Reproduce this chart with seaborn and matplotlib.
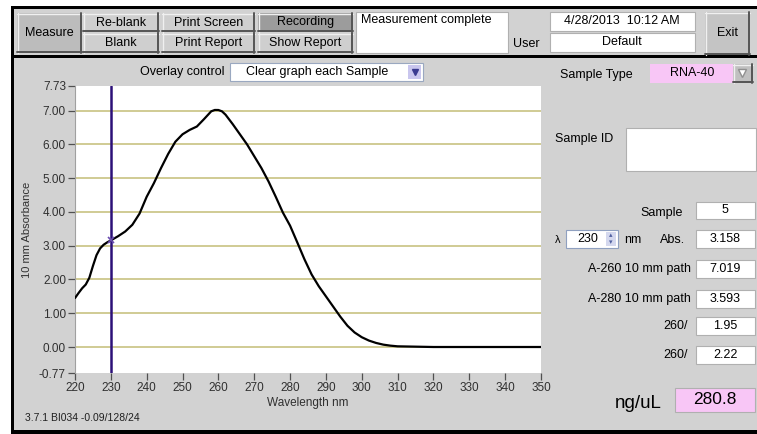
import numpy as np
import pandas as pd
import matplotlib
matplotlib.use("Agg")
import matplotlib.pyplot as plt
from matplotlib.patches import Rectangle
from matplotlib.lines import Line2D
import seaborn as sns

# spectrum
wavelength = [220, 221, 222, 223, 224, 225, 226, 227, 228, 229, 230, 232, 234, 236, 238,
              240, 242, 244, 246, 248, 250, 252, 254, 256, 258, 259, 260, 261, 262, 264,
              266, 268, 270, 272, 274, 276, 278, 280, 282, 284, 286, 288, 290, 292, 294,
              296, 298, 300, 302, 304, 306, 308, 310, 315, 320, 325, 330, 335, 340, 345, 350]
absorbance = [1.45, 1.60, 1.74, 1.85, 2.05, 2.40, 2.72, 2.92, 3.03, 3.10, 3.158, 3.28, 3.42, 3.62, 3.95,
              4.45, 4.85, 5.30, 5.72, 6.08, 6.30, 6.43, 6.53, 6.75, 6.98, 7.02, 7.019, 6.98, 6.88, 6.60,
              6.30, 6.00, 5.65, 5.30, 4.90, 4.45, 3.98, 3.593, 3.10, 2.60, 2.15, 1.80, 1.50, 1.20, 0.90,
              0.63, 0.43, 0.29, 0.19, 0.12, 0.07, 0.04, 0.02, 0.01, 0.0, 0.0, 0.0, 0.0, 0.0, 0.0, 0.0]

x_ticks = list(range(220, 351, 10))
y_ticks = [-0.77, 0.0, 1.0, 2.0, 3.0, 4.0, 5.0, 6.0, 7.0, 7.73]
grid_levels = [0, 1, 2, 3, 4, 5, 6, 7]
cursor_nm = 230
cursor_abs = 3.158

result_labels = ["A-260 10 mm path", "A-280 10 mm path", "260/", "260/"]
result_values = ["7.019", "3.593", "1.95", "2.22"]
concentration = "280.8"

sns.set_style("white")
plt.rcParams["font.family"] = ["Liberation Sans", "DejaVu Sans"]

W, H = 757, 434
GRAY = "#d2d2d2"
PINK = "#f8c6f6"

fig = plt.figure(figsize=(W / 100, H / 100), dpi=100)
fig.patch.set_facecolor("white")


def box(x0, y0, x1, y1, fc, ec="none", lw=0.8, z=1):
    fig.add_artist(Rectangle((x0 / W, 1 - y1 / H), (x1 - x0) / W, (y1 - y0) / H,
                             transform=fig.transFigure, facecolor=fc, edgecolor=ec,
                             linewidth=lw, zorder=z))


def line(xs, ys, color, lw=1.0, z=2):
    fig.add_artist(Line2D([x / W for x in xs], [1 - y / H for y in ys],
                          transform=fig.transFigure, color=color, linewidth=lw, zorder=z))


def label(x, y, s, ha="left", size=9, color="black", **kw):
    fig.text(x / W, 1 - y / H, s, ha=ha, va="center", fontsize=size, color=color, zorder=5, **kw)


def button(x0, y0, x1, y1, fc, text, size=9):
    box(x0, y0, x1, y1, fc, z=2)
    line([x0, x1], [y0 + 0.5, y0 + 0.5], "#f0f0f0", 1.0, 3)
    line([x0 + 0.5, x0 + 0.5], [y0, y1], "#f0f0f0", 1.0, 3)
    line([x0, x1], [y1 - 0.8, y1 - 0.8], "#555555", 1.4, 3)
    line([x1 - 0.8, x1 - 0.8], [y0, y1], "#555555", 1.4, 3)
    label((x0 + x1) / 2, (y0 + y1) / 2, text, ha="center", size=size)


# window frame
box(11, 6, W, 434, "black", z=0)
box(14, 9, W, 55, GRAY, z=1)
box(14, 58, W, 430, GRAY, z=1)

# toolbar
button(17, 13, 82, 53, "#bcbcbc", "Measure")
button(83, 13, 159, 32, "#cfcfcf", "Re-blank")
button(83, 33, 159, 53, "#cfcfcf", "Blank")
button(162, 13, 255, 32, "#cfcfcf", "Print Screen")
button(162, 33, 255, 53, "#cfcfcf", "Print Report")
button(258, 13, 353, 32, "#9c9c9c", "Recording")
button(258, 33, 353, 53, "#cfcfcf", "Show Report")
box(356, 12, 508, 53, "white", "#b0b0b0", z=2)
label(361, 20, "Measurement complete")
label(513, 44, "User")
box(550, 12, 695, 31, "white", "#b0b0b0", z=2)
label(622, 21, "4/28/2013  10:12 AM", ha="center")
box(550, 33, 695, 52, "white", "#b0b0b0", z=2)
label(622, 42, "Default", ha="center")
button(705, 12, 750, 55, "#c4c4c4", "Exit")

# overlay control
label(224, 72, "Overlay control", ha="right")
box(230, 63, 423, 81, "white", "#9aa8c0", z=2)
label(246, 72, "Clear graph each Sample")
box(408, 65, 421, 79, "#c9c6ee", z=3)
fig.add_artist(Line2D([414.5 / W], [1 - 72 / H], transform=fig.transFigure, marker="v",
                      markersize=4, color="#3a3a90", zorder=4))

# spectrum plot
ax = fig.add_axes([75 / W, 1 - 373 / H, (541 - 75) / W, (373 - 86) / H])
ax.set_zorder(4)
ax.set_facecolor("white")
ax.hlines(grid_levels, 220, 350, color="#c8c282", linewidth=1.2, zorder=1)
sns.lineplot(x=wavelength, y=absorbance, ax=ax, color="black", linewidth=1.6, zorder=3)
ax.axvline(cursor_nm, color="#2c1078", linewidth=1.8, zorder=2)
ax.plot([cursor_nm], [cursor_abs], marker="x", markersize=5, color="#6a4cb0", mew=1.2, zorder=4)
ax.set_xlim(220, 350)
ax.set_ylim(-0.77, 7.73)
ax.set_xticks(x_ticks)
ax.set_xticklabels([str(t) for t in x_ticks])
ax.set_yticks(y_ticks)
ax.set_yticklabels([f"{t:.2f}" for t in y_ticks])
for side in ["top", "right", "bottom"]:
    ax.spines[side].set_visible(False)
ax.spines["left"].set_color("#a0a0a0")
ax.tick_params(axis="both", direction="out", length=5, width=0.9, color="#505050",
               labelsize=8.5, labelcolor="#303030", pad=1.5, bottom=True, left=True)
ax.set_xlabel("Wavelength nm", fontsize=8.5, color="#303030", labelpad=2)
ax.set_ylabel("")
label(27, 230, "10 mm Absorbance", ha="center", size=8, color="#303030", rotation=90)
label(25, 418, "3.7.1 BI034 -0.09/128/24", size=7.5, color="#202020")

# right panel
label(560, 75, "Sample Type")
box(650, 64, 733, 83, PINK, z=2)
label(692, 73, "RNA-40", ha="center")
button(733, 64, 753, 83, "#c0c0c0", "")
fig.add_artist(Line2D([742 / W], [1 - 73 / H], transform=fig.transFigure, marker="v",
                      markersize=6, color="white", mec="#909090", zorder=4))

label(555, 139, "Sample ID")
box(626, 128, 756, 171, "white", "#b0b0b0", z=2)

label(683, 213, "Sample", ha="right")
box(696, 202, 755, 219, "white", "#b0b0b0", z=2)
label(725, 210, "5", ha="center")

label(555, 240, "λ", size=8)
box(566, 230, 618, 248, "white", "#8fa0c0", z=2)
label(588, 239, "230", ha="center")
box(606, 232, 616, 246, "#d4d8ee", z=3)
label(611, 235.5, "▴", ha="center", size=5, color="#5060a0")
label(611, 242.5, "▾", ha="center", size=5, color="#5060a0")
label(624, 240, "nm")
label(685, 240, "Abs.", ha="right")
box(696, 230, 755, 248, "white", "#b0b0b0", z=2)
label(725, 239, "3.158", ha="center")

row_y = [269, 299, 326, 355]
for yy, name, val in zip(row_y, result_labels, result_values):
    label(691 if name.startswith("A") else 688, yy, name, ha="right")
    box(696, yy - 9, 755, yy + 9, "white", "#b0b0b0", z=2)
    label(725, yy, val, ha="center")

label(615, 403, "ng/uL", size=13.5)
box(675, 388, 755, 412, PINK, "#b0b0b0", z=2)
label(715, 400, concentration, ha="center", size=12.5)

fig.savefig("out.png", dpi=100, facecolor=fig.get_facecolor())
